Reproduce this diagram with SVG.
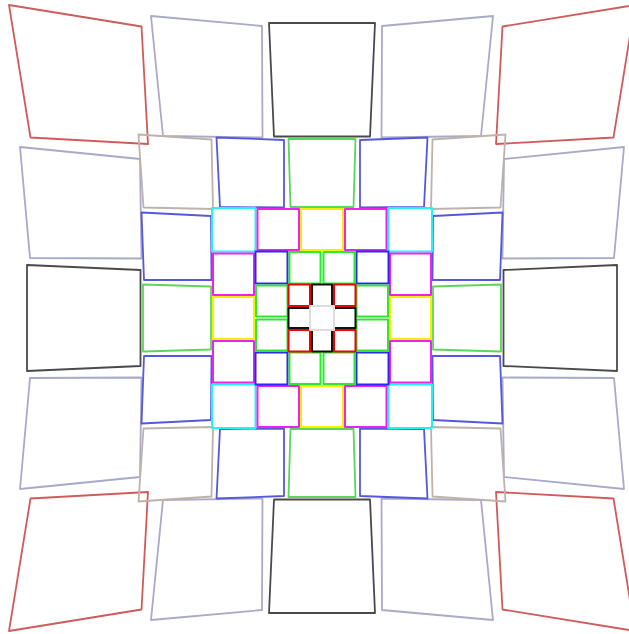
<svg xmlns="http://www.w3.org/2000/svg" width="629" height="634" viewBox="0 0 629 634">
<style>
polygon,rect{fill:none;stroke-linejoin:round}
.r5red{stroke:#cf5b5b;stroke-width:1.8}
.r5lav{stroke:#a9a9c9;stroke-width:1.8}
.r5blk{stroke:#4a4a4a;stroke-width:1.8}
.r4tan{stroke:#bdb3aa;stroke-width:1.8}
.r4blu{stroke:#5757dd;stroke-width:1.8}
.r4grn{stroke:#5ad65a;stroke-width:1.8}
.r3cyn{stroke:#22f4f4;stroke-width:2}
.r3mag{stroke:#f020f0;stroke-width:2}
.r3yel{stroke:#f4f000;stroke-width:2}
.r2blu{stroke:#2a2af4;stroke-width:2}
.r2grn{stroke:#2ee82e;stroke-width:2}
.r1red{stroke:#f00000;stroke-width:2}
.r1blk{stroke:#111111;stroke-width:2}
.r0{stroke:#dddddd;stroke-width:2}
</style>
<rect width="629" height="634" fill="#ffffff"/>
<g transform="translate(322,318)">
<g id="ring5">
<g id="r5-red-tl"><polygon class="r5red" points="-313,-313 -180.5,-291.5 -174,-174 -291.5,-180.5"/></g>
<g id="r5-red-tr"><polygon class="r5red" points="313,-313 180.5,-291.5 174,-174 291.5,-180.5"/></g>
<g id="r5-red-bl"><polygon class="r5red" points="-313,313 -180.5,291.5 -174,174 -291.5,180.5"/></g>
<g id="r5-red-br"><polygon class="r5red" points="313,313 180.5,291.5 174,174 291.5,180.5"/></g>
<g id="r5-lav-t1"><polygon class="r5lav" points="-171,-302 -60,-292 -59.5,-180.5 -159,-182"/></g>
<g id="r5-lav-t2"><polygon class="r5lav" points="171,-302 60,-292 59.5,-180.5 159,-182"/></g>
<g id="r5-lav-b1"><polygon class="r5lav" points="-171,302 -60,292 -59.5,180.5 -159,182"/></g>
<g id="r5-lav-b2"><polygon class="r5lav" points="171,302 60,292 59.5,180.5 159,182"/></g>
<g id="r5-lav-l1"><polygon class="r5lav" points="-302,-171 -292,-60 -180.5,-59.5 -182,-159"/></g>
<g id="r5-lav-l2"><polygon class="r5lav" points="-302,171 -292,60 -180.5,59.5 -182,159"/></g>
<g id="r5-lav-r1"><polygon class="r5lav" points="302,-171 292,-60 180.5,-59.5 182,-159"/></g>
<g id="r5-lav-r2"><polygon class="r5lav" points="302,171 292,60 180.5,59.5 182,159"/></g>
<g id="r5-blk-t"><polygon class="r5blk" points="-53,-295 53,-295 48,-181.5 -48,-181.5"/></g>
<g id="r5-blk-b"><polygon class="r5blk" points="-53,295 53,295 48,181.5 -48,181.5"/></g>
<g id="r5-blk-l"><polygon class="r5blk" points="-295,-53 -295,53 -181.5,48 -181.5,-48"/></g>
<g id="r5-blk-r"><polygon class="r5blk" points="295,-53 295,53 181.5,48 181.5,-48"/></g>
</g>
<g id="ring4">
<g id="r4-tan-tl"><polygon class="r4tan" points="-183.5,-183.5 -110.5,-178.5 -109,-109 -178.5,-110.5"/></g>
<g id="r4-tan-tr"><polygon class="r4tan" points="183.5,-183.5 110.5,-178.5 109,-109 178.5,-110.5"/></g>
<g id="r4-tan-bl"><polygon class="r4tan" points="-183.5,183.5 -110.5,178.5 -109,109 -178.5,110.5"/></g>
<g id="r4-tan-br"><polygon class="r4tan" points="183.5,183.5 110.5,178.5 109,109 178.5,110.5"/></g>
<g id="r4-blu-t1"><polygon class="r4blu" points="-105.5,-180.5 -38,-178 -38,-110.5 -102,-111"/></g>
<g id="r4-blu-t2"><polygon class="r4blu" points="105.5,-180.5 38,-178 38,-110.5 102,-111"/></g>
<g id="r4-blu-b1"><polygon class="r4blu" points="-105.5,180.5 -38,178 -38,110.5 -102,111"/></g>
<g id="r4-blu-b2"><polygon class="r4blu" points="105.5,180.5 38,178 38,110.5 102,111"/></g>
<g id="r4-blu-l1"><polygon class="r4blu" points="-180.5,-105.5 -178,-38 -110.5,-38 -111,-102"/></g>
<g id="r4-blu-l2"><polygon class="r4blu" points="-180.5,105.5 -178,38 -110.5,38 -111,102"/></g>
<g id="r4-blu-r1"><polygon class="r4blu" points="180.5,-105.5 178,-38 110.5,-38 111,-102"/></g>
<g id="r4-blu-r2"><polygon class="r4blu" points="180.5,105.5 178,38 110.5,38 111,102"/></g>
<g id="r4-grn-t"><polygon class="r4grn" points="-33.5,-179 33.5,-179 31.5,-111 -31.5,-111"/></g>
<g id="r4-grn-b"><polygon class="r4grn" points="-33.5,179 33.5,179 31.5,111 -31.5,111"/></g>
<g id="r4-grn-l"><polygon class="r4grn" points="-179,-33.5 -179,33.5 -111,31.5 -111,-31.5"/></g>
<g id="r4-grn-r"><polygon class="r4grn" points="179,-33.5 179,33.5 111,31.5 111,-31.5"/></g>
</g>
<g id="ring3">
<g id="r3-cyn-tl"><rect class="r3cyn" x="-110" y="-110" width="43.5" height="43.5"/></g>
<g id="r3-cyn-tr"><rect class="r3cyn" x="66.5" y="-110" width="43.5" height="43.5"/></g>
<g id="r3-cyn-bl"><rect class="r3cyn" x="-110" y="66.5" width="43.5" height="43.5"/></g>
<g id="r3-cyn-br"><rect class="r3cyn" x="66.5" y="66.5" width="43.5" height="43.5"/></g>
<g id="r3-mag-t1"><rect class="r3mag" x="-64.5" y="-109" width="41.5" height="41"/></g>
<g id="r3-mag-t2"><rect class="r3mag" x="23" y="-109" width="41.5" height="41"/></g>
<g id="r3-mag-b1"><rect class="r3mag" x="-64.5" y="68" width="41.5" height="41"/></g>
<g id="r3-mag-b2"><rect class="r3mag" x="23" y="68" width="41.5" height="41"/></g>
<g id="r3-mag-l1"><rect class="r3mag" x="-109" y="-64.5" width="41" height="41.5"/></g>
<g id="r3-mag-l2"><rect class="r3mag" x="-109" y="23" width="41" height="41.5"/></g>
<g id="r3-mag-r1"><rect class="r3mag" x="68" y="-64.5" width="41" height="41.5"/></g>
<g id="r3-mag-r2"><rect class="r3mag" x="68" y="23" width="41" height="41.5"/></g>
<g id="r3-yel-t"><rect class="r3yel" x="-21" y="-109" width="42" height="41"/></g>
<g id="r3-yel-b"><rect class="r3yel" x="-21" y="68" width="42" height="41"/></g>
<g id="r3-yel-l"><rect class="r3yel" x="-109" y="-21" width="41" height="42"/></g>
<g id="r3-yel-r"><rect class="r3yel" x="68" y="-21" width="41" height="42"/></g>
</g>
<g id="ring2">
<g id="r2-blu-tl"><rect class="r2blu" x="-66.5" y="-66.5" width="32" height="32"/></g>
<g id="r2-blu-tr"><rect class="r2blu" x="34.5" y="-66.5" width="32" height="32"/></g>
<g id="r2-blu-bl"><rect class="r2blu" x="-66.5" y="34.5" width="32" height="32"/></g>
<g id="r2-blu-br"><rect class="r2blu" x="34.5" y="34.5" width="32" height="32"/></g>
<g id="r2-grn-t1"><rect class="r2grn" x="-32.5" y="-66" width="31" height="31.5"/></g>
<g id="r2-grn-t2"><rect class="r2grn" x="1.5" y="-66" width="31" height="31.5"/></g>
<g id="r2-grn-b1"><rect class="r2grn" x="-32.5" y="34.5" width="31" height="31.5"/></g>
<g id="r2-grn-b2"><rect class="r2grn" x="1.5" y="34.5" width="31" height="31.5"/></g>
<g id="r2-grn-l1"><rect class="r2grn" x="-66" y="-32.5" width="31.5" height="31"/></g>
<g id="r2-grn-l2"><rect class="r2grn" x="-66" y="1.5" width="31.5" height="31"/></g>
<g id="r2-grn-r1"><rect class="r2grn" x="34.5" y="-32.5" width="31.5" height="31"/></g>
<g id="r2-grn-r2"><rect class="r2grn" x="34.5" y="1.5" width="31.5" height="31"/></g>
</g>
<g id="ring1">
<g id="r1-red-tl"><rect class="r1red" x="-33.5" y="-33.5" width="21.5" height="21.5"/></g>
<g id="r1-red-tr"><rect class="r1red" x="12" y="-33.5" width="21.5" height="21.5"/></g>
<g id="r1-red-bl"><rect class="r1red" x="-33.5" y="12" width="21.5" height="21.5"/></g>
<g id="r1-red-br"><rect class="r1red" x="12" y="12" width="21.5" height="21.5"/></g>
<g id="r1-blk-t"><rect class="r1blk" x="-10" y="-33.5" width="20" height="21.5"/></g>
<g id="r1-blk-b"><rect class="r1blk" x="-10" y="12" width="20" height="21.5"/></g>
<g id="r1-blk-l"><rect class="r1blk" x="-33.5" y="-10" width="21.5" height="20"/></g>
<g id="r1-blk-r"><rect class="r1blk" x="12" y="-10" width="21.5" height="20"/></g>
</g>
<g id="ring0">
<g id="r0-center"><rect class="r0" x="-12" y="-12" width="24" height="24"/></g>
</g>
</g>
</svg>
